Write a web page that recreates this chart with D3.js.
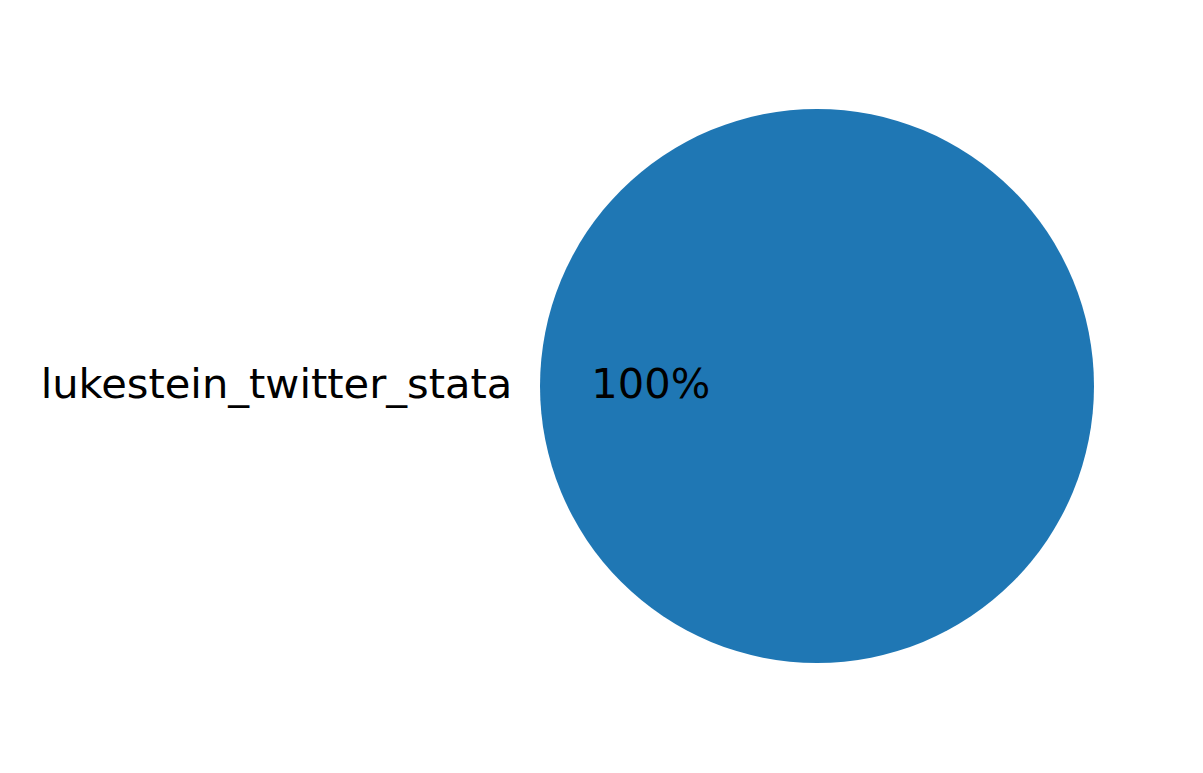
<!DOCTYPE html>
<html>
<head>
<meta charset="utf-8">
<script src="https://cdn.jsdelivr.net/npm/d3@7"></script>
<style>
  body { margin: 0; background: #fff; }
  svg text { font-family: "DejaVu Sans", sans-serif; }
</style>
</head>
<body>
<script>
//chart data
var labels = ["lukestein_twitter_stata"];
var values = [1];
var colors = ["#1f77b4"];

//frame dimensions
var width = 1203,
    height = 773;
var cx = 817, cy = 386, radius = 277;

var svg = d3.select("body")
    .append("svg")
    .attr("width", width)
    .attr("height", height);

var g = svg.append("g")
    .attr("transform", "translate(" + cx + "," + cy + ")");

//matplotlib style: counter clockwise from 3 o'clock
var pie = d3.pie()
    .sort(null)
    .startAngle(Math.PI / 2)
    .endAngle(Math.PI / 2 - 2 * Math.PI);

var arc = d3.arc()
    .innerRadius(0)
    .outerRadius(radius);

var arcs = pie(values);
var total = d3.sum(values);

g.selectAll(".slice")
    .data(arcs)
    .enter()
    .append("path")
    .attr("class", "slice")
    .attr("d", arc)
    .style("fill", function(d, i){ return colors[i]; });

//mid angle in screen coords (0 = up, clockwise)
function midPoint(d, r){
    var a = (d.startAngle + d.endAngle) / 2;
    return [Math.sin(a) * r, -Math.cos(a) * r];
}

//outer labels
g.selectAll(".label")
    .data(arcs)
    .enter()
    .append("text")
    .attr("class", "label")
    .attr("x", function(d){ return midPoint(d, radius * 1.1)[0]; })
    .attr("y", function(d){ return midPoint(d, radius * 1.1)[1]; })
    .attr("dy", "0.3em")
    .attr("text-anchor", function(d){ return midPoint(d, 1)[0] < -1e-6 ? "end" : "start"; })
    .style("font-size", "41.6px")
    .text(function(d, i){ return labels[i]; });

//percentages
g.selectAll(".pct")
    .data(arcs)
    .enter()
    .append("text")
    .attr("class", "pct")
    .attr("x", function(d){ return midPoint(d, radius * 0.6)[0]; })
    .attr("y", function(d){ return midPoint(d, radius * 0.6)[1]; })
    .attr("dy", "0.3em")
    .attr("text-anchor", "middle")
    .style("font-size", "41.6px")
    .text(function(d){ return Math.round(d.value / total * 100) + "%"; });
</script>
</body>
</html>
